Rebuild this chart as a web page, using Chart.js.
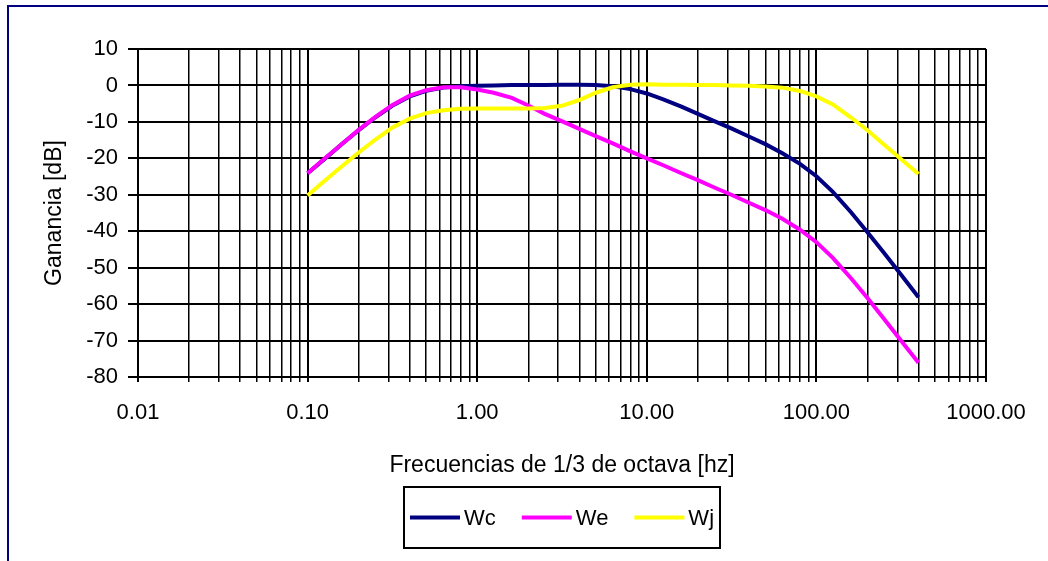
<!DOCTYPE html>
<html>
<head>
<meta charset="utf-8">
<script src="https://cdn.jsdelivr.net/npm/chart.js@4.4.1/dist/chart.umd.min.js"></script>
<style>
  html, body { margin: 0; padding: 0; background: #fff; }
  #wrap { position: relative; width: 1048px; height: 561px; overflow: hidden; }
  #frame { position: absolute; left: 7px; top: 5px; width: 1100px; height: 600px; border: 2px solid #000080; }
  #chart { position: absolute; left: 0; top: 0; }
</style>
</head>
<body>
<div id="wrap">
  <div id="frame"></div>
  <canvas id="chart" width="1048" height="561"></canvas>
</div>
<script>
// frecuencias centrales de 1/3 de octava [Hz]
const freqs = [0.1, 0.125, 0.16, 0.2, 0.25, 0.315, 0.4, 0.5, 0.63, 0.8,
  1, 1.25, 1.6, 2, 2.5, 3.15, 4, 5, 6.3, 8,
  10, 12.5, 16, 20, 25, 31.5, 40, 50, 63, 80,
  100, 125, 160, 200, 250, 315, 400];

// ganancias [dB]
const wc = [-24.1, -20.3, -16.0, -12.3, -8.8, -5.6, -3.0, -1.5, -0.6, -0.2,
  -0.1, 0.0, 0.1, 0.1, 0.1, 0.2, 0.2, 0.1, -0.2, -1.0,
  -2.2, -3.8, -5.8, -7.8, -9.8, -11.8, -14.0, -16.1, -18.6, -21.5,
  -24.9, -29.2, -34.8, -40.3, -45.9, -51.9, -58.1];
const we = [-24.1, -20.2, -16.0, -12.2, -8.7, -5.4, -2.8, -1.3, -0.5, -0.5,
  -1.1, -2.0, -3.4, -5.5, -7.8, -9.8, -11.9, -13.9, -15.9, -18.1,
  -20.0, -21.9, -24.1, -26.0, -28.0, -30.0, -32.2, -34.2, -36.6, -39.6,
  -43.0, -47.3, -52.9, -58.3, -64.0, -70.0, -76.1];
const wj = [-30.2, -26.3, -22.1, -18.4, -14.9, -11.6, -9.1, -7.6, -6.8, -6.4,
  -6.3, -6.3, -6.3, -6.3, -6.2, -5.6, -4.0, -2.0, -0.5, 0.2,
  0.3, 0.2, 0.2, 0.1, 0.1, 0.0, -0.1, -0.3, -0.6, -1.5,
  -3.0, -5.2, -8.8, -12.3, -16.2, -20.2, -24.3];

const seriesNames = ['Wc', 'We', 'Wj'];

// ejes
const xMajorTicks = [0.01, 0.1, 1, 10, 100, 1000];
const xTickLabels = ['0.01', '0.10', '1.00', '10.00', '100.00', '1000.00'];
const yMin = -80, yMax = 10, yStep = 10;

const FONT = '"Liberation Sans", Arial, sans-serif';

// lineas de grilla en 1..9 de cada decada
const xGridValues = [];
xMajorTicks.forEach((d, i) => {
  if (i === xMajorTicks.length - 1) { xGridValues.push(d); return; }
  for (let k = 1; k <= 9; k++) xGridValues.push(k === 1 ? d : d * k);
});

// leyenda con recuadro, como en Excel
const legendBox = {
  id: 'legendBox',
  afterDraw(chart) {
    const ctx = chart.ctx;
    const sets = chart.data.datasets;
    ctx.save();
    ctx.font = '22px ' + FONT;
    const sample = 50, gap = 4, space = 26, pad = 6;
    const widths = sets.map(d => ctx.measureText(d.label).width);
    const total = pad * 2 + widths.reduce((a, w) => a + sample + gap + w, 0) + space * (sets.length - 1);
    const cx = (chart.chartArea.left + chart.chartArea.right) / 2;
    const top = 487, h = 61;
    let x = Math.round(cx - total / 2);
    ctx.strokeStyle = '#000';
    ctx.lineWidth = 2;
    ctx.strokeRect(x, top, Math.round(total), h);
    const mid = top + h / 2;
    x += pad;
    sets.forEach((d, i) => {
      ctx.strokeStyle = d.borderColor;
      ctx.lineWidth = 4;
      ctx.beginPath();
      ctx.moveTo(x, mid);
      ctx.lineTo(x + sample, mid);
      ctx.stroke();
      x += sample + gap;
      ctx.fillStyle = '#000';
      ctx.textBaseline = 'middle';
      ctx.fillText(d.label, x, mid + 1);
      x += widths[i] + space;
    });
    ctx.restore();
  }
};

new Chart(document.getElementById('chart'), {
  type: 'line',
  data: {
    labels: freqs,
    datasets: [
      { label: seriesNames[0], data: freqs.map((f, i) => ({ x: f, y: wc[i] })), borderColor: '#000080', order: 2 },
      { label: seriesNames[1], data: freqs.map((f, i) => ({ x: f, y: we[i] })), borderColor: '#FF00FF', order: 1 },
      { label: seriesNames[2], data: freqs.map((f, i) => ({ x: f, y: wj[i] })), borderColor: '#FFFF00', order: 0 }
    ]
  },
  options: {
    responsive: false,
    animation: false,
    layout: { padding: { left: 0, top: 49, right: 62, bottom: 74 } },
    elements: {
      line: { borderWidth: 4, tension: 0, fill: false },
      point: { radius: 0, hoverRadius: 0 }
    },
    plugins: {
      legend: { display: false },
      tooltip: { enabled: false }
    },
    scales: {
      x: {
        type: 'logarithmic',
        min: 0.01,
        max: 1000,
        afterBuildTicks: (scale) => {
          scale.ticks = xGridValues.map(v => ({ value: v }));
        },
        afterFit: (scale) => { scale.height = 110; },
        ticks: {
          autoSkip: false,
          maxRotation: 0,
          padding: 18,
          color: '#000',
          font: { family: FONT, size: 22 },
          callback: (v) => {
            const i = xMajorTicks.indexOf(v);
            return i >= 0 ? xTickLabels[i] : '';
          }
        },
        grid: {
          color: '#000',
          tickLength: 5,
          lineWidth: (c) => (c.tick && xMajorTicks.indexOf(c.tick.value) >= 0 ? 2 : 1.5)
        },
        border: { color: '#000', width: 2 },
        title: {
          display: true,
          text: 'Frecuencias de 1/3 de octava [hz]',
          color: '#000',
          font: { family: FONT, size: 23 },
          padding: { top: 0, bottom: 8 }
        }
      },
      y: {
        min: yMin,
        max: yMax,
        afterFit: (scale) => { scale.width = 138; },
        ticks: {
          stepSize: yStep,
          padding: 10,
          color: '#000',
          font: { family: FONT, size: 22 }
        },
        grid: { color: '#000', lineWidth: 2, tickLength: 10 },
        border: { color: '#000', width: 2 },
        title: {
          display: true,
          text: 'Ganancia [dB]',
          color: '#000',
          font: { family: FONT, size: 23 },
          padding: { top: 41, bottom: 0 }
        }
      }
    }
  },
  plugins: [legendBox]
});
</script>
</body>
</html>
